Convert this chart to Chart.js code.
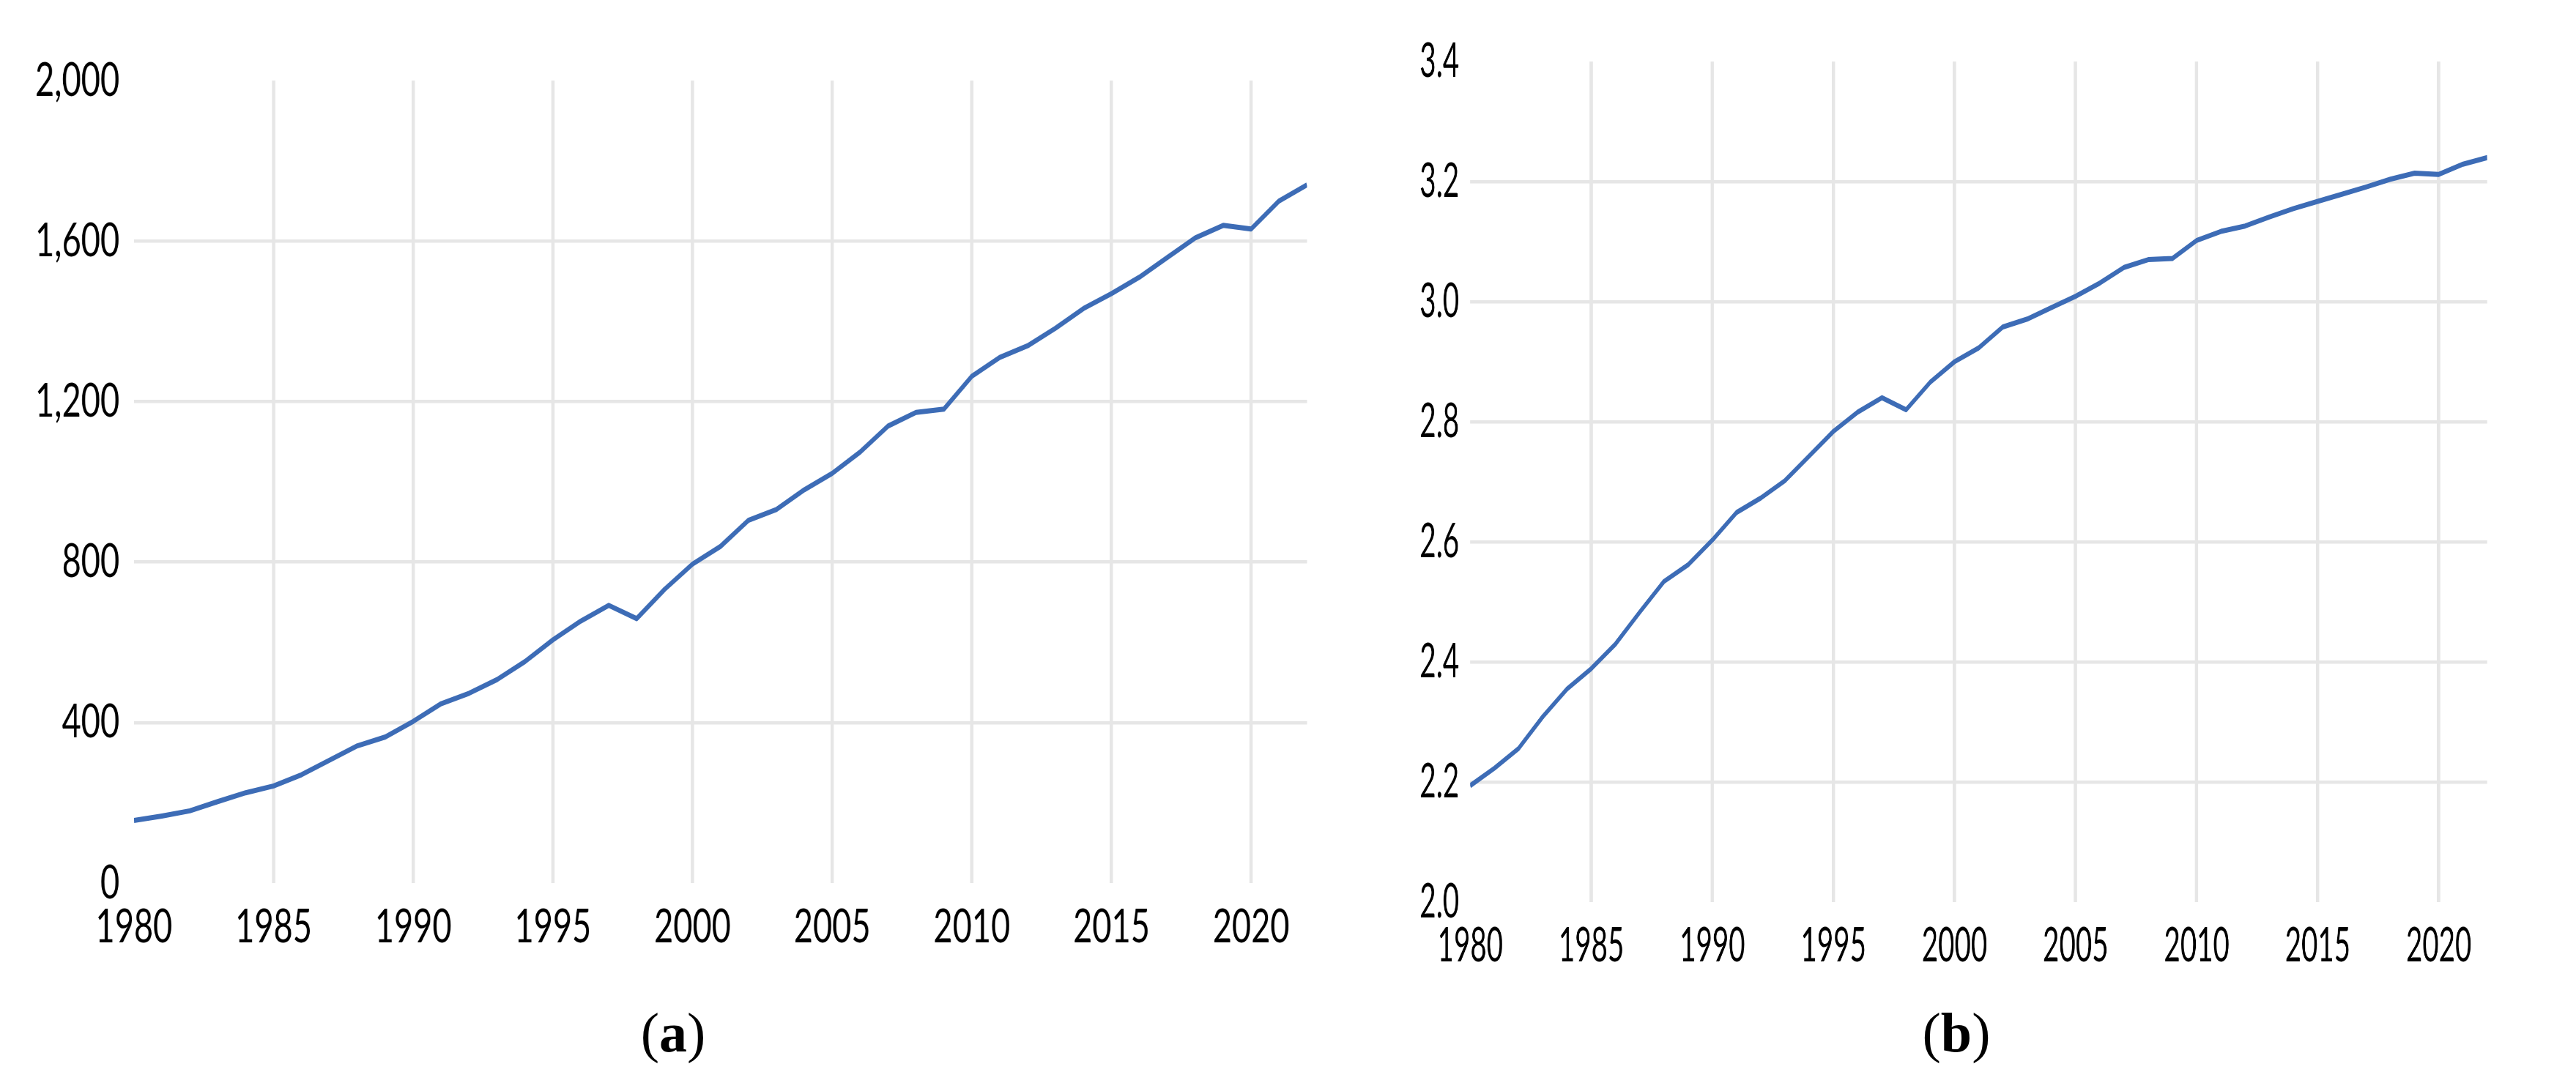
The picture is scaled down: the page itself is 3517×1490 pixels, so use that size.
<!DOCTYPE html>
<html>
<head>
<meta charset="utf-8">
<script src="https://cdn.jsdelivr.net/npm/chart.js@4/dist/chart.umd.min.js"></script>
<style>
    body { margin: 0; width: 3517px; height: 1490px; background: #fff; position: relative; overflow: hidden; }
    .panel { position: absolute; top: 0; transform-origin: 0 0; }
    .caption { position: absolute; top: 1372px; width: 300px; text-align: center; font-family: "Liberation Serif", "Times New Roman", serif; font-size: 76px; line-height: 1; color: #000; }
</style>
</head>
<body>
<div class="panel" id="panelA" style="left:0px; width:2531px; height:1326px; transform:scaleX(0.706);"><canvas id="chartA"></canvas></div>
<div class="panel" id="panelB" style="left:1880px; width:2599px; height:1352px; transform:scaleX(0.584);"><canvas id="chartB"></canvas></div>
<div class="caption" style="left:769px;">(<b>a</b>)</div>
<div class="caption" style="left:2521px;">(<b>b</b>)</div>

<script>
// Data
const years = [1980, 1981, 1982, 1983, 1984, 1985, 1986, 1987, 1988, 1989,
               1990, 1991, 1992, 1993, 1994, 1995, 1996, 1997, 1998, 1999,
               2000, 2001, 2002, 2003, 2004, 2005, 2006, 2007, 2008, 2009,
               2010, 2011, 2012, 2013, 2014, 2015, 2016, 2017, 2018, 2019,
               2020, 2021, 2022];

// panel (a)
const seriesA = [156, 167, 180, 203, 225, 242, 270, 306, 342, 364,
                 403, 447, 473, 507, 552, 606, 653, 692, 659, 732,
                 795, 839, 904, 931, 980, 1021, 1074, 1139, 1173, 1181,
                 1263, 1310, 1339, 1383, 1432, 1469, 1510, 1559, 1608, 1639,
                 1630, 1700, 1740];

// panel (b)
const seriesB = [2.194, 2.223, 2.256, 2.309, 2.355, 2.389, 2.430, 2.483, 2.534, 2.562,
                 2.603, 2.649, 2.673, 2.702, 2.743, 2.784, 2.816, 2.840, 2.820, 2.866,
                 2.900, 2.923, 2.958, 2.971, 2.990, 3.009, 3.031, 3.057, 3.070, 3.072,
                 3.102, 3.117, 3.126, 3.141, 3.155, 3.167, 3.179, 3.191, 3.204, 3.214,
                 3.212, 3.229, 3.240];

const yTicksA = [0, 400, 800, 1200, 1600, 2000];
const yTicksB = [2.0, 2.2, 2.4, 2.6, 2.8, 3.0, 3.2, 3.4];

const LINE_COLOR = '#3d6cb6';
const GRID_COLOR = '#e6e6e6';
const NONE = 'rgba(0,0,0,0)';

function makeChart(canvasId, values, yTicks, opt) {
    const yMin = yTicks[0];
    const yMax = yTicks[yTicks.length - 1];
    const isEdge = v => Math.abs(v - yMin) < 1e-9 || Math.abs(v - yMax) < 1e-9;

    return new Chart(document.getElementById(canvasId), {
        type: 'line',
        data: {
            datasets: [{
                data: years.map((yr, i) => ({ x: yr, y: values[i] })),
                borderColor: LINE_COLOR,
                borderWidth: opt.lineWidth,
                borderJoinStyle: 'round',
                pointRadius: 0,
                tension: 0,
                fill: false
            }]
        },
        options: {
            responsive: true,
            maintainAspectRatio: false,
            animation: false,
            layout: { padding: { top: opt.top, right: 0, bottom: 0, left: 0 } },
            plugins: {
                legend: { display: false },
                tooltip: { enabled: false }
            },
            scales: {
                x: {
                    type: 'linear',
                    min: years[0],
                    max: years[years.length - 1],
                    border: { display: false },
                    grid: {
                        drawTicks: false,
                        lineWidth: opt.vGridWidth,
                        color: ctx => (ctx.tick && ctx.tick.value === years[0]) ? NONE : GRID_COLOR
                    },
                    ticks: {
                        stepSize: 5,
                        includeBounds: false,
                        autoSkip: false,
                        maxRotation: 0,
                        padding: opt.xPad,
                        color: '#000',
                        font: { family: 'Lato', size: opt.fontSize },
                        callback: v => String(v)
                    },
                    afterFit: s => { s.height = 120; }
                },
                y: {
                    min: yMin,
                    max: yMax,
                    border: { display: false },
                    grid: {
                        drawTicks: false,
                        lineWidth: 4.5,
                        color: ctx => (ctx.tick && isEdge(ctx.tick.value)) ? NONE : GRID_COLOR
                    },
                    ticks: {
                        stepSize: yTicks[1] - yTicks[0],
                        padding: opt.yPad,
                        color: '#000',
                        font: { family: 'Lato', size: opt.fontSize },
                        callback: opt.format
                    },
                    afterFit: s => { s.width = opt.yWidth; }
                }
            }
        }
    });
}

// Left chart
makeChart('chartA', seriesA, yTicksA, {
    top: 110, yWidth: 259, yPad: 28, xPad: 22, fontSize: 64,
    lineWidth: 7, vGridWidth: 4.5 / 0.706,
    format: v => Number(v).toLocaleString('en-US')
});

// Right chart
makeChart('chartB', seriesB, yTicksB, {
    top: 84, yWidth: 218, yPad: 26, xPad: 20, fontSize: 66,
    lineWidth: 7, vGridWidth: 4.5 / 0.584,
    format: v => Number(v).toFixed(1)
});
</script>
</body>
</html>
